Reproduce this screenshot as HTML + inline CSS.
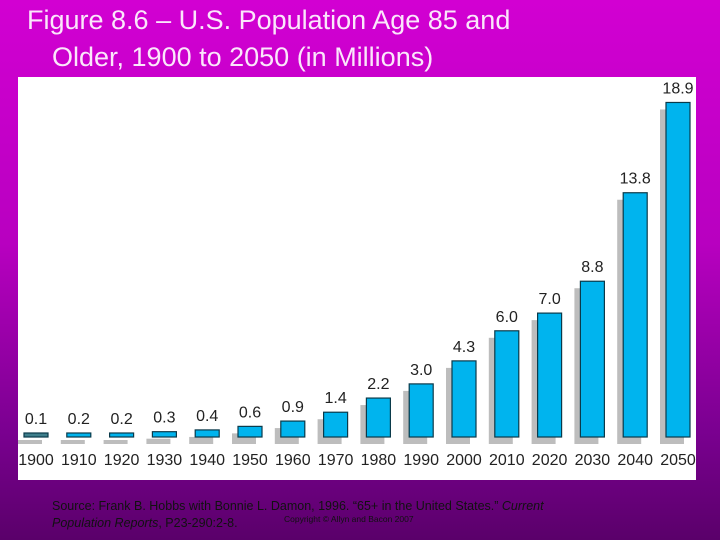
<!DOCTYPE html>
<html><head><meta charset="utf-8"><style>
body{margin:0;width:720px;height:540px;overflow:hidden;background:linear-gradient(#d200d2 0%,#b800c0 45%,#7a0090 80%,#5a006a 100%);font-family:"Liberation Sans",sans-serif;position:relative}
.t{position:absolute;color:#fbe6fb;font-size:27px;white-space:nowrap}
#chart{position:absolute;left:18px;top:77px;width:678px;height:403px;background:#fff}
.src{position:absolute;left:52px;font-size:12.5px;color:#111;white-space:nowrap}
</style></head><body>
<div class="t" style="left:27px;top:5px">Figure 8.6 – U.S. Population Age 85 and</div>
<div class="t" style="left:52px;top:42px">Older, 1900 to 2050 (in Millions)</div>
<svg id="chart" width="678" height="403"></svg>
<div class="src" style="top:499px">Source: Frank B. Hobbs with Bonnie L. Damon, 1996. “65+ in the United States.” <i>Current</i></div>
<div class="src" style="top:516px"><i>Population Reports</i>, P23-290:2-8.</div>
<div class="src" style="left:284px;top:514px;font-size:8.5px">Copyright © Allyn and Bacon 2007</div>
<script>
const years=["1900","1910","1920","1930","1940","1950","1960","1970","1980","1990","2000","2010","2020","2030","2040","2050"];
const values=[0.1,0.2,0.2,0.3,0.4,0.6,0.9,1.4,2.2,3.0,4.3,6.0,7.0,8.8,13.8,18.9];
const labels=["0.1","0.2","0.2","0.3","0.4","0.6","0.9","1.4","2.2","3.0","4.3","6.0","7.0","8.8","13.8","18.9"];
const svg=document.getElementById('chart');
const NS='http://www.w3.org/2000/svg';
const base=360, pxPer=17.7, x0=6, step=42.8, bw=24;
function xs(i){return x0+i*step;}
function ys(v){return base-Math.max(v*pxPer,4);}
function mk(tag,attrs){const e=document.createElementNS(NS,tag);for(const k in attrs)e.setAttribute(k,attrs[k]);svg.appendChild(e);return e;}
values.forEach((v,i)=>{
  const x=xs(i),y=ys(v);
  const s=mk('rect',{x:x-6,y:y+7,width:bw,height:base+7-(y+7),fill:'#bdbdbd'});
  
  
  const b=mk('rect',{x:x,y:y,width:bw,height:base-y,fill:i===0?'#3f7f8c':'#00b4ee',stroke:'#0a3a4a','stroke-width':1.2});
  
  
  const t=mk('text',{x:x+bw/2,y:y-9,'text-anchor':'middle','font-size':16,fill:'#222','font-family':'Liberation Sans Narrow, Liberation Sans, sans-serif'});
  t.textContent=labels[i];
  
  
  const yl=mk('text',{x:x+bw/2,y:388,'text-anchor':'middle','font-size':16,fill:'#222','font-family':'Liberation Sans Narrow, Liberation Sans, sans-serif'});
  yl.textContent=years[i];
  
  
});
</script>
</body></html>
